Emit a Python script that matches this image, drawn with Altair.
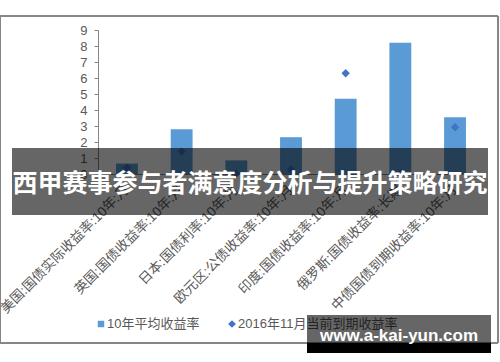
import altair as alt
import pandas as pd

categories = [
    "美国:国债实际收益率:10年:月",
    "英国:国债收益率:10年:月",
    "日本:国债利率:10年:月",
    "欧元区:公债收益率:10年:月",
    "印度:国债收益率:10年:月",
    "俄罗斯:国债收益率:长期",
    "中债国债到期收益率:10年:月",
]
avg_yield = [0.65, 2.8, 0.85, 2.3, 4.7, 8.2, 3.55]
current_yield = [0.4, 1.4, 0.03, 0.28, 6.3, 0.0, 2.92]
series_names = ["10年平均收益率", "2016年11月当前到期收益率"]
y_ticks = list(range(10))
banner_text = "西甲赛事参与者满意度分析与提升策略研究"
watermark_text = "www.a-kai-yun.com"

FONT = "Liberation Sans, Noto Sans CJK SC, sans-serif"
CJK_BOLD = "Noto Sans CJK SC"
BAR_COLOR = "#5B9BD5"
PT_COLOR = "#4472C4"
TXT = "#595959"
AXIS = "#868686"

df = pd.DataFrame({"cat": categories, "avg": avg_yield, "cur": current_yield})

x_axis = alt.Axis(
    title=None, labelAngle=-45, labelAlign="right", labelBaseline="middle",
    labelFontSize=13.5, labelColor=TXT, labelFont=FONT, labelLimit=0,
    labelOverlap=False, domainColor=AXIS, ticks=False, labelPadding=13,
)
x_scale = alt.Scale(paddingInner=0.6, paddingOuter=0.33)
y_scale = alt.Scale(domain=[0, 9], nice=False)
y_axis = alt.Axis(
    title=None, values=y_ticks, tickCount=10, grid=False, labelFontSize=13, labelColor=TXT,
    labelFont=FONT, domainColor=AXIS, tickColor=AXIS, tickSize=4, labelPadding=7,
    labelOverlap=False, labelFlush=False, labelBound=False,
)

base = alt.Chart(df)

frame = base.mark_rect(fill=None, stroke=AXIS, strokeWidth=1).encode(
    x=alt.value(-98), x2=alt.value(400), y=alt.value(-14), y2=alt.value(313)
)

bars = base.mark_bar(color=BAR_COLOR).encode(
    x=alt.X("cat:N", sort=categories, scale=x_scale, axis=x_axis),
    y=alt.Y("avg:Q", scale=y_scale, axis=y_axis),
)
points = base.mark_point(shape="diamond", filled=True, size=70, color=PT_COLOR, opacity=1).encode(
    x=alt.X("cat:N", sort=categories, scale=x_scale, axis=x_axis),
    y=alt.Y("cur:Q", scale=y_scale, axis=y_axis),
)

one = alt.Chart(pd.DataFrame({"k": [0]}))

leg1_sym = one.mark_square(size=42, color=BAR_COLOR, opacity=1).encode(
    x=alt.value(3), y=alt.value(294)
)
leg1_txt = one.mark_text(text=series_names[0], align="left", baseline="middle",
                         fontSize=13, color=TXT, font=FONT).encode(
    x=alt.value(9), y=alt.value(294)
)
leg2_sym = one.mark_point(shape="diamond", filled=True, size=60, color=PT_COLOR, opacity=1).encode(
    x=alt.value(134), y=alt.value(294)
)
leg2_txt = one.mark_text(text=series_names[1], align="left", baseline="middle",
                         fontSize=13, color=TXT, font=FONT).encode(
    x=alt.value(140), y=alt.value(294)
)

banner_rect = one.mark_rect(color="black", opacity=0.6).encode(
    x=alt.value(-86), x2=alt.value(390), y=alt.value(118), y2=alt.value(185)
)
banner_txt = one.mark_text(text=banner_text, align="center", baseline="middle",
                           fontSize=25, fontWeight="bold", color="white", font=CJK_BOLD).encode(
    x=alt.value(152), y=alt.value(154)
)

wm_rect = one.mark_rect(color="black", opacity=0.6).encode(
    x=alt.value(209), x2=alt.value(393), y=alt.value(285), y2=alt.value(313)
)
wm_strip = one.mark_rect(color="black", opacity=1).encode(
    x=alt.value(209), x2=alt.value(393), y=alt.value(313), y2=alt.value(323)
)
wm_txt = one.mark_text(text=watermark_text, align="center", baseline="middle",
                       fontSize=17, fontWeight="bold", color="white",
                       font="Liberation Sans, DejaVu Sans").encode(
    x=alt.value(301), y=alt.value(306)
)

chart = alt.layer(
    frame, bars, points, leg1_sym, leg1_txt, leg2_sym, leg2_txt,
    banner_rect, banner_txt, wm_rect, wm_strip, wm_txt,
).properties(
    width=386, height=144,
    autosize=alt.AutoSizeParams(type="none"),
    padding={"left": 98, "top": 30, "right": 16, "bottom": 188},
    background="white",
).configure_view(stroke=None)

chart.save("out.html", embed_options={"renderer": "svg", "actions": False})
